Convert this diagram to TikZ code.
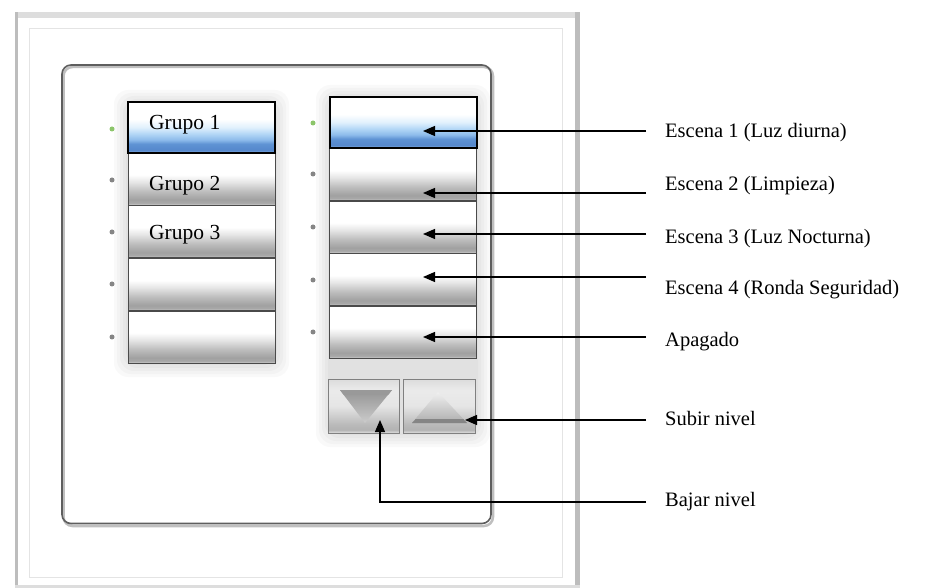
\documentclass[tikz,border=0pt]{standalone}
\usepackage{fontspec}
\setmainfont{Liberation Serif}
\usetikzlibrary{arrows.meta}

\definecolor{framebar}{HTML}{DDDDDD}
\definecolor{frameside}{HTML}{BDBDBD}
\definecolor{frameline}{HTML}{E4E4E4}
\definecolor{panelline}{HTML}{5E5E5E}
\definecolor{keyedge}{HTML}{4A4A4A}
\definecolor{dotgray}{HTML}{858585}
\definecolor{dotgreen}{HTML}{8CC56A}

% vertical shadings: the visible range of a shaded path runs from 25bp (bottom) to 75bp (top)
\pgfdeclareverticalshading{keygray}{100bp}{%
  color(0bp)=(black!20); color(25bp)=(black!20); color(27bp)=(black!34);
  color(30bp)=(black!37); color(38bp)=(black!26); color(47bp)=(black!10);
  color(54bp)=(white); color(75bp)=(white); color(100bp)=(white)}
\pgfdeclareverticalshading{keyblue}{100bp}{%
  color(0bp)=(rgb,255:red,136;green,176;blue,224); color(25bp)=(rgb,255:red,136;green,176;blue,224);
  color(28bp)=(rgb,255:red,85;green,136;blue,204); color(34bp)=(rgb,255:red,95;green,147;blue,212);
  color(38bp)=(rgb,255:red,141;green,187;blue,235); color(44bp)=(rgb,255:red,180;green,216;blue,246);
  color(50bp)=(rgb,255:red,224;green,240;blue,252); color(58bp)=(white);
  color(75bp)=(white); color(100bp)=(white)}
\pgfdeclareverticalshading{keysmall}{100bp}{%
  color(0bp)=(black!12); color(25bp)=(black!12); color(28bp)=(black!30);
  color(33bp)=(black!27); color(50bp)=(black!10); color(65bp)=(black!8);
  color(75bp)=(black!14); color(100bp)=(black!14)}

\tikzset{
  keybtn/.style={draw=keyedge, line width=0.8pt, shade, shading=keygray,
    minimum width=147pt, minimum height=52pt, inner sep=0pt},
  keysel/.style={draw=black, line width=2pt, shade, shading=keyblue,
    minimum width=147pt, minimum height=51pt, inner sep=0pt},
  navbtn/.style={draw=black!50, line width=1pt, shade, shading=keysmall,
    minimum height=54pt, inner sep=0pt},
  keytext/.style={anchor=west, inner sep=0pt, font=\fontsize{21.5}{24}\selectfont},
  callout/.style={anchor=west, inner xsep=19pt, inner ysep=0pt,
    text height=14pt, text depth=4.5pt, font=\fontsize{20.5}{24}\selectfont},
  arr/.style={draw=black, line width=1.3pt, -{Triangle[length=12pt,width=10pt]}},
  halo/.style={fill=black, opacity=0.022},
  leddot/.style={circle, fill=dotgray, minimum size=5pt, inner sep=0pt},
}

\begin{document}
\begin{tikzpicture}[x=1pt,y=-1pt]
\useasboundingbox (0,0) rectangle (930,588);
\fill[white] (0,0) rectangle (930,588);

% outer frame
\fill[framebar] (15,12) rectangle (580,18);
\fill[frameside] (15,12) rectangle (18,588);
\fill[frameside] (575,12) rectangle (580,588);
\fill[framebar] (15,585) rectangle (580,588);
\draw[frameline, line width=1pt] (29,29) rectangle (562,577);

% device panel
\draw[black!25, line width=2.5pt, rounded corners=9pt] (63.5,67) rectangle (493,526);
\draw[panelline, line width=1.6pt, rounded corners=9pt] (62,65) rectangle (491,523.5);

% soft glow behind the key columns
\foreach \g in {2,5,8,11,14}{
  \fill[halo, rounded corners=14pt] (128-\g,102-\g+2) rectangle (275+\g,363+\g);
  \fill[halo, rounded corners=14pt] (330-\g,97-\g+2) rectangle (476+\g,433+\g);
}

% group keys
\node[keybtn] (g5) at (201.5,337) {};
\node[keybtn] (g4) at (201.5,284.5) {};
\node[keybtn] (g3) at (201.5,231.5) {};
\node[keybtn] (g2) at (201.5,179) {};
\node[keysel] (g1) at (201.5,127.5) {};
\node[keytext] (g1t) at (149,125) {Grupo 1};
\node[keytext] (g2t) at (149,186) {Grupo 2};
\node[keytext] (g3t) at (149,235) {Grupo 3};

% scene keys
\node[keybtn] (s5) at (403,332) {};
\node[keybtn] (s4) at (403,279.5) {};
\node[keybtn] (s3) at (403,227) {};
\node[keybtn] (s2) at (403,174.5) {};
\node[keysel] (s1) at (403,122.5) {};

% status LEDs
\node[leddot, fill=dotgreen] (lg1) at (112,129) {};
\node[leddot] (lg2) at (112,180) {};
\node[leddot] (lg3) at (112,232) {};
\node[leddot] (lg4) at (112,284) {};
\node[leddot] (lg5) at (112,337) {};
\node[leddot, fill=dotgreen] (ls1) at (313,123) {};
\node[leddot] (ls2) at (313,174) {};
\node[leddot] (ls3) at (313,227) {};
\node[leddot] (ls4) at (313,280) {};
\node[leddot] (ls5) at (313,332) {};

% level keys
\node[navbtn, minimum width=71pt] (dn) at (363.5,406) {};
\node[navbtn, minimum width=72pt] (up) at (439,406) {};
\shade[top color=black!42, bottom color=black!20] (340,390) -- (392,390) -- (365,423) -- cycle;
\fill[black!40] (340,390) -- (392,390) -- (388.6,394.5) -- (343.4,394.5) -- cycle;
\shade[top color=black!6, bottom color=black!32] (438,392) -- (467,423) -- (412,423) -- cycle;
\fill[black!48] (415.7,419) -- (463.3,419) -- (467,423) -- (412,423) -- cycle;

% arrow targets
\coordinate (t1) at (423,131);
\coordinate (t2) at (423,193);
\coordinate (t3) at (423,234);
\coordinate (t4) at (423,277);
\coordinate (t5) at (423,337);
\coordinate (tup) at (465,420);
\coordinate (tdn) at (380,420);

% callout texts
\node[callout] (c1) at (646,133) {Escena 1 (Luz diurna)};
\node[callout] (c2) at (646,186) {Escena 2 (Limpieza)};
\node[callout] (c3) at (646,239) {Escena 3 (Luz Nocturna)};
\node[callout] (c4) at (646,290) {Escena 4 (Ronda Seguridad)};
\node[callout] (c5) at (646,342) {Apagado};
\node[callout] (c6) at (646,421) {Subir nivel};
\node[callout] (c7) at (646,502) {Bajar nivel};

% callout leaders
\draw[arr] (c1.west |- t1) -- (t1);
\draw[arr] (c2.west |- t2) -- (t2);
\draw[arr] (c3.west |- t3) -- (t3);
\draw[arr] (c4.west |- t4) -- (t4);
\draw[arr] (c5.west |- t5) -- (t5);
\draw[arr] (c6.west |- tup) -- (tup);
\draw[arr] (c7.west) -| (tdn);
\end{tikzpicture}
\end{document}
